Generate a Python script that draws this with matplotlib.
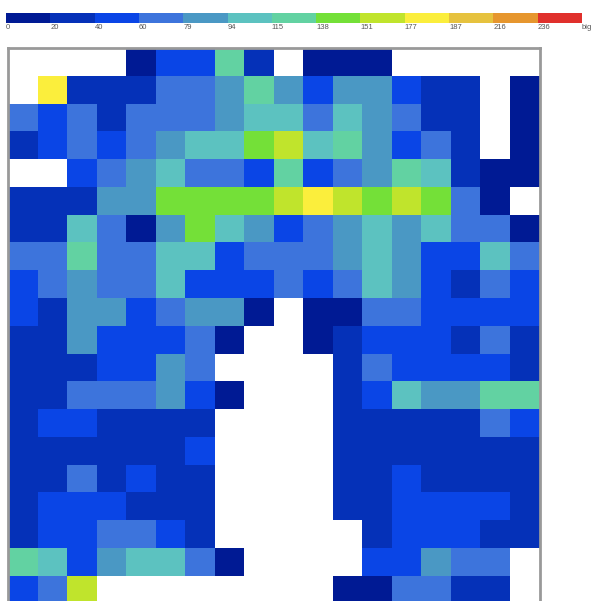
import numpy as np
import matplotlib
matplotlib.use('Agg')
import matplotlib.pyplot as plt
from matplotlib.colors import ListedColormap, BoundaryNorm

W, H = 595, 601

# class limits of the legend
bounds = [0, 20, 40, 60, 79, 94, 115, 138, 151, 177, 187, 216, 236, 260]
tick_labels = ['0', '20', '40', '60', '79', '94', '115', '138', '151', '177',
               '187', '216', '236', 'big']
colors = ['#001a94', '#0531b8', '#0a45e6', '#3d74dc', '#4a98c4', '#5cc2c0',
          '#62d2a2', '#74e038', '#c0e42c', '#fbee3c', '#e6c23e', '#e6962e',
          '#e0302c']

x = np.nan
n, d, b, m, t, c, g, l, y, w = 10, 30, 50, 70, 86, 105, 125, 145, 165, 182

row00 = [x, x, x, x, n, b, b, g, d, x, n, n, n, x, x, x, x, x]
row01 = [x, w, d, d, d, m, m, t, g, t, b, t, t, b, d, d, x, n]
row02 = [m, b, m, d, m, m, m, t, c, c, m, c, t, m, d, d, x, n]
row03 = [d, b, m, b, m, t, c, c, l, y, c, g, t, b, m, d, x, n]
row04 = [x, x, b, m, t, c, m, m, b, g, b, m, t, g, c, d, n, n]
row05 = [d, d, d, t, t, l, l, l, l, y, w, y, l, y, l, m, n, x]
row06 = [d, d, c, m, n, t, l, c, t, b, m, t, c, t, c, m, m, n]
row07 = [m, m, g, m, m, c, c, b, m, m, m, t, c, t, b, b, c, m]
row08 = [b, m, t, m, m, c, b, b, b, m, b, m, c, t, b, d, m, b]
row09 = [b, d, t, t, b, m, t, t, n, x, n, n, m, m, b, b, b, b]
row10 = [d, d, t, b, b, b, m, n, x, x, n, d, b, b, b, d, m, d]
row11 = [d, d, d, b, b, t, m, x, x, x, x, d, m, b, b, b, b, d]
row12 = [d, d, m, m, m, t, b, n, x, x, x, d, b, c, t, t, g, g]
row13 = [d, b, b, d, d, d, d, x, x, x, x, d, d, d, d, d, m, b]
row14 = [d, d, d, d, d, d, b, x, x, x, x, d, d, d, d, d, d, d]
row15 = [d, d, m, d, b, d, d, x, x, x, x, d, d, b, d, d, d, d]
row16 = [d, b, b, b, d, d, d, x, x, x, x, d, d, b, b, b, b, d]
row17 = [d, b, b, m, m, b, d, x, x, x, x, x, d, b, b, b, d, d]
row18 = [g, c, b, t, c, c, m, n, x, x, x, x, b, b, t, m, m, x]
row19 = [b, m, y, x, x, x, x, x, x, x, x, n, n, m, m, d, d, x]

grid = np.array([row00, row01, row02, row03, row04, row05, row06, row07, row08,
                 row09, row10, row11, row12, row13, row14, row15, row16, row17,
                 row18, row19])

cmap = ListedColormap(colors)
cmap.set_bad('white')
norm = BoundaryNorm(bounds, cmap.N)

plt.rcParams['font.family'] = 'Liberation Sans'
fig = plt.figure(figsize=(W / 100, H / 100), dpi=100)


def box(left, top, right, bottom):
    return [left / W, 1 - bottom / H, (right - left) / W, (bottom - top) / H]


# legend strip, classes are drawn at equal width
cax = fig.add_axes(box(6, 13, 582, 23))
cax.pcolormesh(np.arange(len(colors) + 1), [0, 1],
               [bounds[:-1]], cmap=cmap, norm=norm)
cax.set_yticks([])
cax.set_xlim(0, len(colors))
cax.set_xticks(np.arange(len(tick_labels)))
cax.set_xticklabels(tick_labels, fontsize=5.5, color='#555555', ha='left')
cax.tick_params(axis='x', length=0, pad=1)
for s in cax.spines.values():
    s.set_visible(False)

# bottom edge falls off the picture, same as the reference
ax = fig.add_axes(box(8, 48, 539.5, 603.5))
ax.pcolormesh(np.arange(grid.shape[1] + 1), np.arange(grid.shape[0] + 1),
              np.ma.masked_invalid(grid), cmap=cmap, norm=norm)
ax.invert_yaxis()
ax.set_xticks([])
ax.set_yticks([])
for s in ax.spines.values():
    s.set_color('#999999')
    s.set_linewidth(2)

fig.savefig('out.png', dpi=100)
